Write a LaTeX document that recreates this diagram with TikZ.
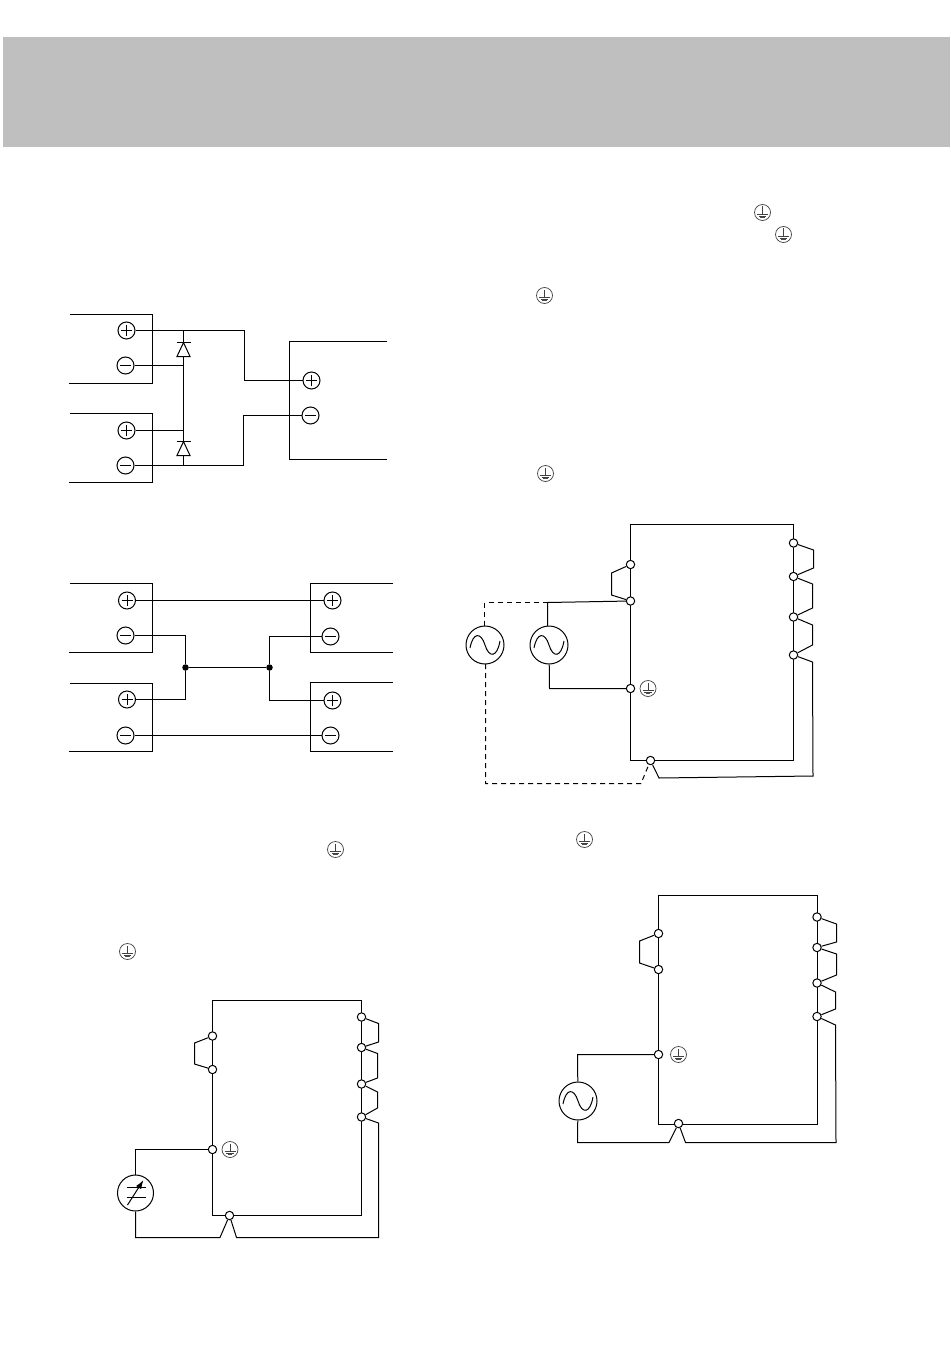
\documentclass[tikz,border=0pt]{standalone}
\usetikzlibrary{arrows.meta}
\begin{document}
\begin{tikzpicture}[x=1bp,y=-1bp,line width=1bp,line join=miter,
  wire/.style={draw=black},
  dashwire/.style={draw=black,dash pattern=on 5bp off 4bp},
  term/.style={circle,draw=black,fill=white,minimum size=8.4bp,inner sep=0pt,line width=1bp},
  pole/.style={circle,draw=black,fill=white,minimum size=17bp,inner sep=0pt,line width=1bp},
  pluspole/.style={pole,path picture={\draw[shift={(path picture bounding box.center)}] (-5.5,0) -- (5.5,0) (0,-5.5) -- (0,5.5);}},
  minuspole/.style={pole,path picture={\draw[shift={(path picture bounding box.center)}] (-5.5,0) -- (5.5,0);}},
  gnd/.style={circle,draw=black!75,fill=white,minimum size=16bp,inner sep=0pt,line width=0.7bp,
    path picture={\draw[line width=0.7bp,shift={(path picture bounding box.center)}] (0,-6) -- (0,2) (-5.5,2) -- (5.5,2) (-3.8,3.8) -- (3.8,3.8);
      \draw[line width=0.9bp,black!70,shift={(path picture bounding box.center)}] (-2.2,5.4) -- (2.2,5.4);}},
  acsrc/.style={circle,draw=black,fill=white,minimum size=38bp,inner sep=0pt,line width=1bp,
    path picture={\draw[line width=1bp,shift={(path picture bounding box.center)}] (-15,3) .. controls (-12,-13) and (-4,-13) .. (0,0) .. controls (4,13) and (12,13) .. (15,-4);}},
  metersrc/.style={circle,draw=black,fill=white,minimum size=36bp,inner sep=0pt,line width=1bp,
    path picture={\draw[shift={(path picture bounding box.center)}] (-9,-6) -- (10,-6) (-9,4) -- (10,4);
      \draw[-{Latex[length=9bp,width=6bp]},shift={(path picture bounding box.center)}] (-8,12) -- (8,-13);}},
  jdot/.style={circle,fill=black,minimum size=6.5bp,inner sep=0pt}]
\useasboundingbox (0,0) rectangle (950,1353);
\fill[fill={rgb,255:red,191;green,191;blue,191}] (3,37) rectangle (950,147);

% loose earth symbols
\node[gnd] (g1) at (762.5,212.5) {};
\node[gnd] (g2) at (783.5,234.5) {};
\node[gnd] (g3) at (544.5,295.5) {};
\node[gnd] (g4) at (545.5,473.5) {};
\node[gnd] (g5) at (584.5,839.5) {};
\node[gnd] (g6) at (335.5,849.5) {};
\node[gnd] (g7) at (127.5,951.5) {};

% --- Diagram 1
\draw[wire] (70,314.5) -- (152.5,314.5) -- (152.5,383.5) -- (69,383.5);
\draw[wire] (70,413.5) -- (152.5,413.5) -- (152.5,482.5) -- (69,482.5);
\draw[wire] (387,341.5) -- (289.5,341.5) -- (289.5,459.5) -- (387,459.5);
\node[pluspole] (a1p) at (126.5,330.5) {};
\node[minuspole] (a1m) at (125.5,365.5) {};
\node[pluspole] (a2p) at (126.5,430.5) {};
\node[minuspole] (a2m) at (125.5,465.5) {};
\node[pluspole] (a3p) at (311.5,380.5) {};
\node[minuspole] (a3m) at (310.5,415.5) {};
\draw[wire] (a1p) -- (244.5,330.5) -- (244.5,380.5) -- (a3p);
\draw[wire] (a2m) -- (243.5,465.5) -- (243.5,415.5) -- (a3m);
\draw[wire] (183.5,330.5) -- (183.5,465.5);
\draw[wire] (a1m) -- (183.5,365.5);
\draw[wire] (a2p) -- (183.5,430.5);
\draw[wire,fill=white] (183.5,342.5) -- (177,356.5) -- (190,356.5) -- cycle;
\draw[wire] (176.5,342.5) -- (190.5,342.5);
\draw[wire,fill=white] (183.5,441.5) -- (177,455.5) -- (190,455.5) -- cycle;
\draw[wire] (176.5,441.5) -- (190.5,441.5);

% --- Diagram 2
\draw[wire] (70,583.5) -- (152.5,583.5) -- (152.5,652.5) -- (69,652.5);
\draw[wire] (70,683.5) -- (152.5,683.5) -- (152.5,751.5) -- (69,751.5);
\draw[wire] (393,583.5) -- (310.5,583.5) -- (310.5,652.5) -- (393,652.5);
\draw[wire] (393,682.5) -- (310.5,682.5) -- (310.5,751.5) -- (393,751.5);
\node[pluspole] (b1p) at (127,600.5) {};
\node[minuspole] (b1m) at (125.5,635.5) {};
\node[pluspole] (b2p) at (127,699.5) {};
\node[minuspole] (b2m) at (125.5,735.5) {};
\node[pluspole] (b3p) at (332.5,600.5) {};
\node[minuspole] (b3m) at (330.5,636.5) {};
\node[pluspole] (b4p) at (332.5,700.5) {};
\node[minuspole] (b4m) at (330.5,735.5) {};
\node[jdot] (j1) at (185.5,667.5) {};
\node[jdot] (j2) at (269.5,667.5) {};
\draw[wire] (b1p) -- (b3p);
\draw[wire] (b2m) -- (b4m);
\draw[wire] (b1m) -- (185.5,635.5) -- (j1);
\draw[wire] (b2p) -- (185.5,699.5) -- (j1);
\draw[wire] (b3m) -- (269.5,636.5) -- (j2);
\draw[wire] (b4p) -- (269.5,700.5) -- (j2);
\draw[wire] (j1) -- (j2);

% --- Diagram 3
\draw[wire] (212.5,1000.5) rectangle (361.5,1215.5);
\node[term] (c1) at (212.5,1036) {};
\node[term] (c2) at (212.5,1069.5) {};
\node[term] (c3) at (212.5,1149.5) {};
\node[term] (c4) at (361.5,1017) {};
\node[term] (c5) at (361.5,1047.5) {};
\node[term] (c6) at (361.5,1084) {};
\node[term] (c7) at (361.5,1117) {};
\node[term] (c8) at (229.5,1215.5) {};
\node[gnd] (cg) at (230,1149.5) {};
\node[metersrc] (cs) at (135.5,1193) {};
\draw[wire] (c1) -- (194.5,1043) -- (194.5,1064) -- (c2);
\draw[wire] (c4) -- (378.5,1023.5) -- (378.5,1042) -- (c5);
\draw[wire] (c5) -- (377.5,1053.5) -- (377.5,1078) -- (c6);
\draw[wire] (c6) -- (377.5,1092) -- (377.5,1108) -- (c7);
\draw[wire] (c7) -- (378.5,1123) -- (378.5,1237.5) -- (236.5,1237.5) -- (c8);
\draw[wire] (c8) -- (220,1237.5) -- (135.5,1237.5) -- (cs);
\draw[wire] (cs) -- (135.5,1149.5) -- (c3);

% --- Diagram 4
\draw[wire] (630.5,524.5) rectangle (793.5,760.5);
\node[term] (d1) at (630.5,564.5) {};
\node[term] (d2) at (630.5,601) {};
\node[term] (d3) at (630.5,688.5) {};
\node[term] (d4) at (793.5,543) {};
\node[term] (d5) at (793.5,576.5) {};
\node[term] (d6) at (793.5,617) {};
\node[term] (d7) at (793.5,655) {};
\node[term] (d8) at (650.5,760.5) {};
\node[gnd] (dg) at (648,688.5) {};
\node[acsrc] (ds2) at (549,645) {};
\node[acsrc] (ds1) at (485,645) {};
\coordinate (dj) at (547.5,602.5);
\draw[wire] (d1) -- (611.5,573) -- (611.5,595) -- (d2);
\draw[wire] (d4) -- (813.5,550) -- (813.5,568) -- (d5);
\draw[wire] (d5) -- (812.5,584) -- (812.5,608) -- (d6);
\draw[wire] (d6) -- (812.5,625) -- (812.5,645) -- (d7);
\draw[wire] (d7) -- (812.5,662) -- (813,776) -- (659,778) -- (d8);
\draw[wire] (d2) -- (dj) -- (547.5,626);
\draw[wire] (ds2) -- (549.5,688.5) -- (d3);
\draw[dashwire] (dj) -- (484.5,602.5) -- (484.5,626);
\draw[dashwire] (485.5,664) -- (485.5,783.5) -- (641,783.5) -- (d8);

% --- Diagram 5
\draw[wire] (658.5,895.5) rectangle (817.5,1124.5);
\node[term] (e1) at (658.5,933.5) {};
\node[term] (e2) at (658.5,969.5) {};
\node[term] (e3) at (658.5,1054.5) {};
\node[term] (e4) at (817,917) {};
\node[term] (e5) at (817,947.5) {};
\node[term] (e6) at (817,983) {};
\node[term] (e7) at (817,1016.5) {};
\node[term] (e8) at (678.5,1123.5) {};
\node[gnd] (eg) at (678.5,1054.5) {};
\node[acsrc] (es) at (578,1101) {};
\draw[wire] (e1) -- (639.5,941) -- (639.5,963) -- (e2);
\draw[wire] (e4) -- (836.5,924) -- (836.5,942) -- (e5);
\draw[wire] (e5) -- (836.5,954) -- (836.5,975) -- (e6);
\draw[wire] (e6) -- (835.5,992) -- (835.5,1009) -- (e7);
\draw[wire] (e7) -- (835.5,1025) -- (836,1142.5) -- (685.5,1142.5) -- (e8);
\draw[wire] (e8) -- (669,1142.5) -- (577.5,1142.5) -- (es);
\draw[wire] (es) -- (577.5,1054.5) -- (e3);
\end{tikzpicture}
\end{document}
